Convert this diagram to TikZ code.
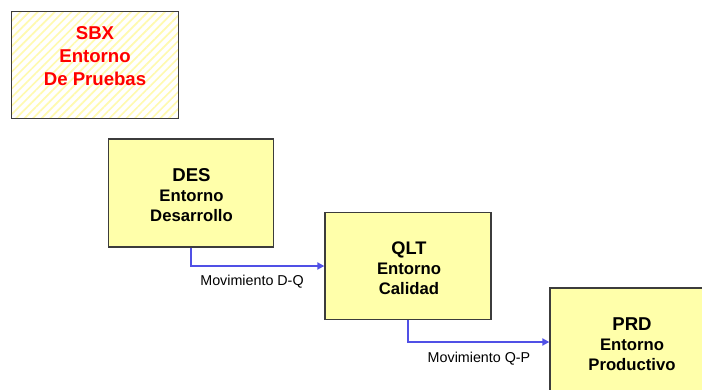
\documentclass[tikz,border=0pt]{standalone}
\usepackage{fontspec}
\setmainfont{Liberation Sans}
\usetikzlibrary{arrows.meta,patterns.meta}
\definecolor{boxfill}{RGB}{255,255,170}
\definecolor{hatch}{RGB}{255,250,175}
\definecolor{boxline}{RGB}{60,60,60}
\definecolor{arrblue}{RGB}{80,80,230}
\definecolor{sbxred}{RGB}{255,0,0}
\tikzset{
  envbox/.style={draw=boxline, line width=1.3pt, fill=boxfill, minimum width=165pt, minimum height=108pt, inner sep=0pt},
  envtext/.style={align=center, font=\bfseries\fontsize{16.7}{20}\selectfont},
  movarrow/.style={draw=arrblue, line width=2.4pt, -{Triangle[length=7pt,width=7pt]}},
  movlabel/.style={font=\fontsize{14.3}{16}\selectfont, inner sep=0pt}
}
\begin{document}
\begin{tikzpicture}[x=1pt,y=1pt]
\useasboundingbox (0,0) rectangle (702,-389);
\clip (0,0) rectangle (702,-389);
% SBX
\node[fill=white, minimum width=166pt, minimum height=106pt, inner sep=0pt] (sbx) at (95,-65) {};
\path[pattern={Lines[angle=45,distance=6pt,line width=1.7pt]}, pattern color=hatch] (sbx.south west) rectangle (sbx.north east);
\draw[boxline, line width=1.3pt] (sbx.south west) rectangle (sbx.north east);
\node[align=center, text=sbxred, font=\bfseries\fontsize{18.6}{23}\selectfont] (sbxt) at (95,-56) {SBX\\Entorno\\De Pruebas};
% DES
\node[envbox] (des) at (191,-193) {};
\node[envtext] (dest) at (191.5,-195.5) {{\fontsize{18.6}{20}\selectfont DES}\\Entorno\\Desarrollo};
% QLT
\node[envbox, minimum width=166pt, minimum height=107pt] (qlt) at (408,-266) {};
\node[envtext] (qltt) at (409,-268) {{\fontsize{18.2}{20}\selectfont QLT}\\Entorno\\Calidad};
% PRD
\node[envbox, minimum width=164pt] (prd) at (632,-342) {};
\node[envtext] (prdt) at (632,-344) {{\fontsize{18.6}{20}\selectfont PRD}\\Entorno\\Productivo};
% arrows
\draw[movarrow] (des.south) |- (qlt.west);
\draw[movarrow] (qlt.south) |- (prd.west);
\node[movlabel] (lbl1) at (252,-282) {Movimiento D-Q};
\node[movlabel] (lbl2) at (479,-359) {Movimiento Q-P};
\end{tikzpicture}
\end{document}
